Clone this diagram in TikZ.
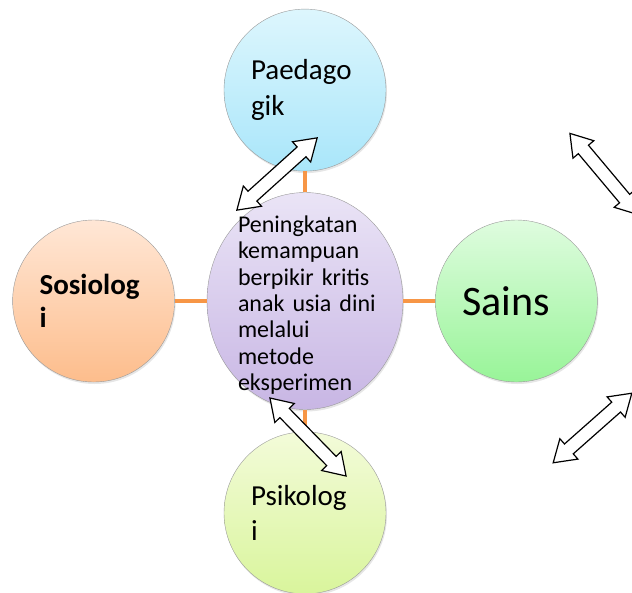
\documentclass[tikz,border=0pt]{standalone}
\usepackage{fontspec}
\setmainfont{Carlito}
\usetikzlibrary{positioning,shapes.geometric,shapes.arrows,shadows}

\definecolor{garis}{HTML}{F79646}
\definecolor{paedAtas}{HTML}{DDF6FD}
\definecolor{paedBawah}{HTML}{A9E6FA}
\definecolor{pusatAtas}{HTML}{EAE4F6}
\definecolor{pusatBawah}{HTML}{C8B6E4}
\definecolor{sosAtas}{HTML}{FFE7D6}
\definecolor{sosBawah}{HTML}{FDBD8C}
\definecolor{sainsAtas}{HTML}{DFFCDF}
\definecolor{sainsBawah}{HTML}{98F498}
\definecolor{psikoAtas}{HTML}{F3FBD9}
\definecolor{psikoBawah}{HTML}{D9F59C}

\begin{document}
\begin{tikzpicture}[x=1pt, y=-1pt,
    bidang/.style={draw=gray!80, circle, minimum size=162pt, inner sep=0pt,
        text width=108pt, align=left,
        drop shadow={shadow xshift=1pt, shadow yshift=-2pt, opacity=0.2},
        font=\fontsize{29}{35.4}\selectfont},
    hub/.style={draw=garis, line width=4pt},
    panah/.style={draw, fill=white, double arrow, line width=1.2pt, inner sep=6pt,
        double arrow head extend=7pt, double arrow tip angle=66}]
    \useasboundingbox (0,0) rectangle (632,592);

    \node[ellipse, draw=gray!80, minimum width=196pt, minimum height=217pt,
        top color=pusatAtas, bottom color=pusatBawah,
        drop shadow={shadow xshift=1pt, shadow yshift=-2pt, opacity=0.2}] (pusat) at (305,301) {};
    \node[text width=140pt, align=left, inner sep=0pt, font=\fontsize{24}{26.3}\selectfont] (teks) at (308,305)
    {Peningkatan\\ kemampuan\\ berpikir kritis\\ anak usia dini\\ melalui\\ metode\\ eksperimen};

    \node[bidang, top color=paedAtas, bottom color=paedBawah] (paed) [above=21pt of pusat] {Paedago\\gik};
    \node[bidang, top color=sosAtas, bottom color=sosBawah, font=\fontsize{29}{33}\selectfont\bfseries] (sosio) [left=32pt of pusat] {Sosiolog\\i};
    \node[bidang, top color=sainsAtas, bottom color=sainsBawah, font=\fontsize{42}{50}\selectfont] (sains) [right=32pt of pusat] {Sains};
    \node[bidang, top color=psikoAtas, bottom color=psikoBawah] (psiko) [below=22pt of pusat] {Psikolog\\i};

    \draw[hub] (paed) -- (pusat);
    \draw[hub] (sosio) -- (pusat);
    \draw[hub] (pusat) -- (sains);
    \draw[hub] (pusat) -- (psiko);

    % panah dua arah
    \node[panah, minimum height=108pt, rotate=42] (p1) at (277,174) {};
    \node[panah, minimum height=109pt, rotate=-45.7] (p2) at (308,437) {};
    \node[panah, minimum height=106pt, rotate=-50] (p3) at (604,174) {};
    \node[panah, minimum height=105pt, rotate=41.5] (p4) at (592.5,428) {};
\end{tikzpicture}
\end{document}
